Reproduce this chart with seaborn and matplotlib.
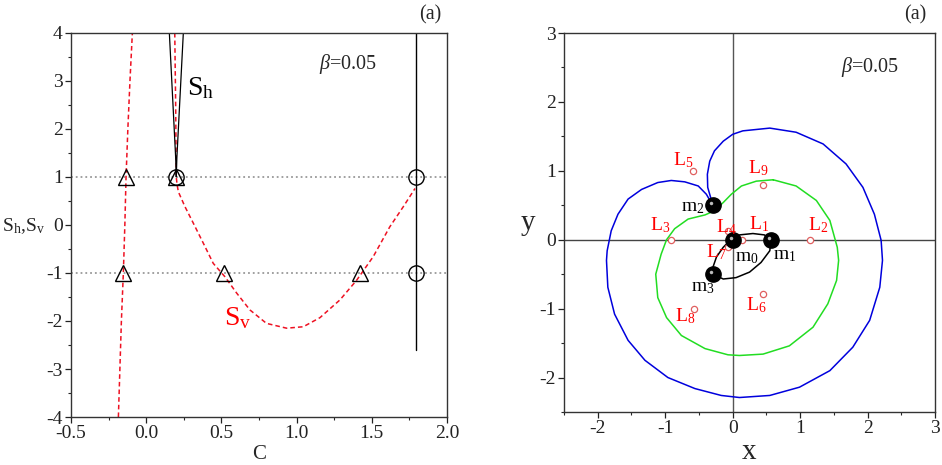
import numpy as np
import matplotlib
matplotlib.use("Agg")
from matplotlib import pyplot as plt
from matplotlib.ticker import MultipleLocator, FormatStrFormatter
import seaborn as sns

# ---- left panel: S_h, S_v versus C ----
sv_left_c = [-0.185, -0.175, -0.165, -0.152, -0.142, -0.134, -0.122, -0.108, -0.092]
sv_left_s = [-4.0, -3.0, -2.0, -1.0, 0.0, 1.0, 2.0, 3.0, 4.0]
sv_main_c = [0.19, 0.196, 0.2, 0.205, 0.214, 0.258, 0.313, 0.38, 0.446, 0.524, 0.602,
             0.69, 0.80, 0.934, 1.045, 1.156, 1.289, 1.40, 1.51, 1.62, 1.71, 1.788]
sv_main_s = [4.0, 2.5, 1.0, 0.85, 0.69, 0.38, 0.04, -0.38, -0.80, -1.08, -1.42,
             -1.77, -2.05, -2.15, -2.12, -1.93, -1.56, -1.15, -0.66, -0.04, 0.38, 0.76]
sh_v_c = [0.154, 0.196, 0.2, 0.204, 0.247]
sh_v_s = [4.0, 1.4, 1.0, 1.4, 4.0]
sh_line_c = [1.792, 1.792]
sh_line_s = [4.0, -2.6]
tri_c = [-0.134, 0.2, -0.155, 0.515, 1.42]
tri_s = [1.0, 1.0, -1.0, -1.0, -1.0]
circ_c = [0.2, 1.792, 1.792]
circ_s = [1.0, 1.0, -1.0]

# ---- right panel: zero-velocity curves and equilibria ----
blue_x = [-0.29, -0.39, -0.51, -0.71, -0.91, -1.11, -1.35, -1.55, -1.70, -1.80, -1.86,
          -1.87, -1.85, -1.75, -1.55, -1.30, -0.96, -0.56, -0.17, 0.10, 0.55, 0.99, 1.44,
          1.78, 2.03, 2.18, 2.22, 2.20, 2.10, 1.93, 1.68, 1.34, 0.94, 0.55, 0.15, 0.0,
          -0.14, -0.27, -0.34, -0.375, -0.37, -0.29]
blue_y = [0.49, 0.66, 0.78, 0.84, 0.86, 0.83, 0.73, 0.59, 0.37, 0.13, -0.16,
          -0.30, -0.69, -1.08, -1.46, -1.75, -2.0, -2.16, -2.26, -2.29, -2.26, -2.14, -1.90,
          -1.56, -1.17, -0.69, -0.30, -0.01, 0.37, 0.76, 1.10, 1.39, 1.56, 1.62, 1.58, 1.53,
          1.43, 1.29, 1.14, 0.95, 0.76, 0.49]
green_x = [0.60, 0.94, 1.24, 1.44, 1.55, 1.57, 1.54, 1.41, 1.19, 0.84, 0.45, 0.10, -0.07,
           -0.41, -0.76, -0.98, -1.11, -1.14, -1.06, -0.98, -0.86, -0.66, -0.41, -0.27,
           -0.14, -0.02, 0.13, 0.35, 0.60]
green_y = [0.87, 0.78, 0.57, 0.28, -0.11, -0.30, -0.59, -0.93, -1.27, -1.54, -1.66, -1.68,
           -1.67, -1.58, -1.39, -1.13, -0.84, -0.50, -0.21, 0.0, 0.16, 0.30, 0.36, 0.42,
           0.54, 0.66, 0.78, 0.85, 0.87]
orbit_x = [-0.29, -0.30, -0.24, -0.14, -0.05, 0.0, 0.10, 0.30, 0.47, 0.57, 0.55, 0.42,
           0.25, 0.05, -0.14, -0.29]
orbit_y = [-0.50, -0.42, -0.25, -0.11, -0.02, 0.0, 0.07, 0.09, 0.07, 0.0, -0.16, -0.33,
           -0.47, -0.55, -0.57, -0.50]
mass_x = [0.0, 0.57, -0.29, -0.29]
mass_y = [0.0, 0.0, 0.50, -0.50]
mass_names = ["$\\mathrm{m_0}$", "$\\mathrm{m_1}$", "$\\mathrm{m_2}$", "$\\mathrm{m_3}$"]
lp_x = [0.14, 1.15, -0.91, -0.07, -0.59, 0.45, -0.07, -0.58, 0.45]
lp_y = [0.0, 0.0, 0.0, 0.13, 1.0, -0.79, -0.11, -1.01, 0.79]
lp_names = ["$\\mathrm{L_%d}$" % i for i in range(1, 10)]

sns.set_theme(style="ticks")
plt.rcParams["font.family"] = ["Liberation Serif", "DejaVu Serif"]
plt.rcParams["mathtext.fontset"] = "custom"
plt.rcParams["mathtext.rm"] = "Liberation Serif"
plt.rcParams["mathtext.it"] = "Liberation Serif:italic"
plt.rcParams["axes.unicode_minus"] = False
plt.rcParams["xtick.direction"] = "out"
plt.rcParams["ytick.direction"] = "out"

fig = plt.figure(figsize=(9.42, 4.65), dpi=100)
ax1 = fig.add_axes([0.0754, 0.1032, 0.399, 0.826])
ax2 = fig.add_axes([0.5987, 0.114, 0.394, 0.815])

# left panel
for yv in (1, -1):
    ax1.axhline(yv, color="#999999", ls=":", lw=1.3, zorder=1)
red_kw = dict(color="#ee1122", lw=1.1, dashes=(3, 2), sort=False, estimator=None, ax=ax1)
sns.lineplot(x=sv_left_c, y=sv_left_s, **red_kw)
sns.lineplot(x=sv_main_c, y=sv_main_s, **red_kw)
sns.lineplot(x=sh_v_c, y=sh_v_s, color="black", lw=0.9, sort=False, estimator=None, ax=ax1)
sns.lineplot(x=sh_line_c, y=sh_line_s, color="black", lw=1.0, sort=False, estimator=None, ax=ax1)
ax1.plot(tri_c, tri_s, ls="none", marker="^", ms=11, mfc="none", mec="black", mew=1.0, zorder=5)
ax1.plot(circ_c, circ_s, ls="none", marker="o", ms=11, mfc="none", mec="black", mew=1.0, zorder=5)
ax1.set_xlim(-0.5, 2.0)
ax1.set_ylim(-4, 4)
ax1.xaxis.set_major_locator(MultipleLocator(0.5))
ax1.xaxis.set_minor_locator(MultipleLocator(0.25))
ax1.yaxis.set_major_locator(MultipleLocator(1))
ax1.yaxis.set_minor_locator(MultipleLocator(0.5))
ax1.xaxis.set_major_formatter(FormatStrFormatter("%.1f"))
ax1.set_xlabel("C", fontsize=15, labelpad=2)
ax1.set_ylabel("")
fig.text(23 / 942, 1 - 226 / 465, "$\\mathrm{S_h}$,$\\mathrm{S_v}$", fontsize=14,
         ha="center", va="center")
ax1.text(0.27, 2.85, "$\\mathrm{S_h}$", fontsize=20, color="black", ha="left", va="center")
ax1.text(0.52, -1.95, "$\\mathrm{S_v}$", fontsize=20, color="red", ha="left", va="center")
ax1.text(1.15, 3.35, "$\\mathit{\\beta}$=0.05", fontsize=14.5, ha="left", va="center")
fig.text(430 / 942, 1 - 15 / 465, "(a)", fontsize=14.5, ha="center", va="center")

# right panel
ax2.axhline(0, color="#444444", lw=1.0, zorder=1)
ax2.axvline(0, color="#555555", lw=1.0, zorder=1)
sns.lineplot(x=blue_x, y=blue_y, color="#0000dd", lw=1.1, sort=False, estimator=None, ax=ax2)
sns.lineplot(x=green_x, y=green_y, color="#22dd22", lw=1.1, sort=False, estimator=None, ax=ax2)
sns.lineplot(x=orbit_x, y=orbit_y, color="black", lw=1.1, sort=False, estimator=None, ax=ax2)
ax2.plot(lp_x, lp_y, ls="none", marker="o", ms=4.5, mfc="white", mec="#e06060", mew=0.9, zorder=4)
ax2.plot(mass_x, mass_y, ls="none", marker="o", ms=11, mfc="black", mec="black", zorder=6)
ax2.plot(np.array(mass_x) - 0.03, np.array(mass_y) + 0.03, ls="none", marker="o", ms=2.5,
         mfc="#bbbbbb", mec="none", zorder=7)

lp_text = [(0.24, 0.15), (1.11, 0.14), (-1.22, 0.14), (-0.25, 0.11), (-0.89, 1.08),
           (0.19, -1.02), (-0.40, -0.25), (-0.85, -1.19), (0.22, 0.96)]
for (tx, ty), name in zip(lp_text, lp_names):
    ax2.text(tx, ty, name, color="red", fontsize=14, ha="left", va="baseline", zorder=8)
m_text = [(0.03, -0.31), (0.60, -0.29), (-0.76, 0.41), (-0.62, -0.75)]
for (tx, ty), name in zip(m_text, mass_names):
    ax2.text(tx, ty, name, color="black", fontsize=14, ha="left", va="baseline", zorder=8)

ax2.set_xlim(-2.5, 3)
ax2.set_ylim(-2.5, 3)
ax2.xaxis.set_major_locator(MultipleLocator(1))
ax2.xaxis.set_minor_locator(MultipleLocator(0.5))
ax2.yaxis.set_major_locator(MultipleLocator(1))
ax2.yaxis.set_minor_locator(MultipleLocator(0.5))
ax2.set_xlabel("x", fontsize=21, labelpad=1)
ax2.set_ylabel("y", fontsize=21, rotation=0, labelpad=8, va="center")
ax2.text(1.6, 2.5, "$\\mathit{\\beta}$=0.05", fontsize=14.5, ha="left", va="center")
fig.text(915 / 942, 1 - 15 / 465, "(a)", fontsize=14.5, ha="center", va="center")

for ax in (ax1, ax2):
    for sp in ax.spines.values():
        sp.set_color("#333333")
        sp.set_linewidth(1.0)
    ax.tick_params(which="major", length=4, width=0.9, labelsize=14, colors="#222222", pad=2)
    ax.tick_params(which="minor", length=2.5, width=0.8)
    ax.tick_params(top=False, right=False)

fig.savefig("out.png", dpi=100)
